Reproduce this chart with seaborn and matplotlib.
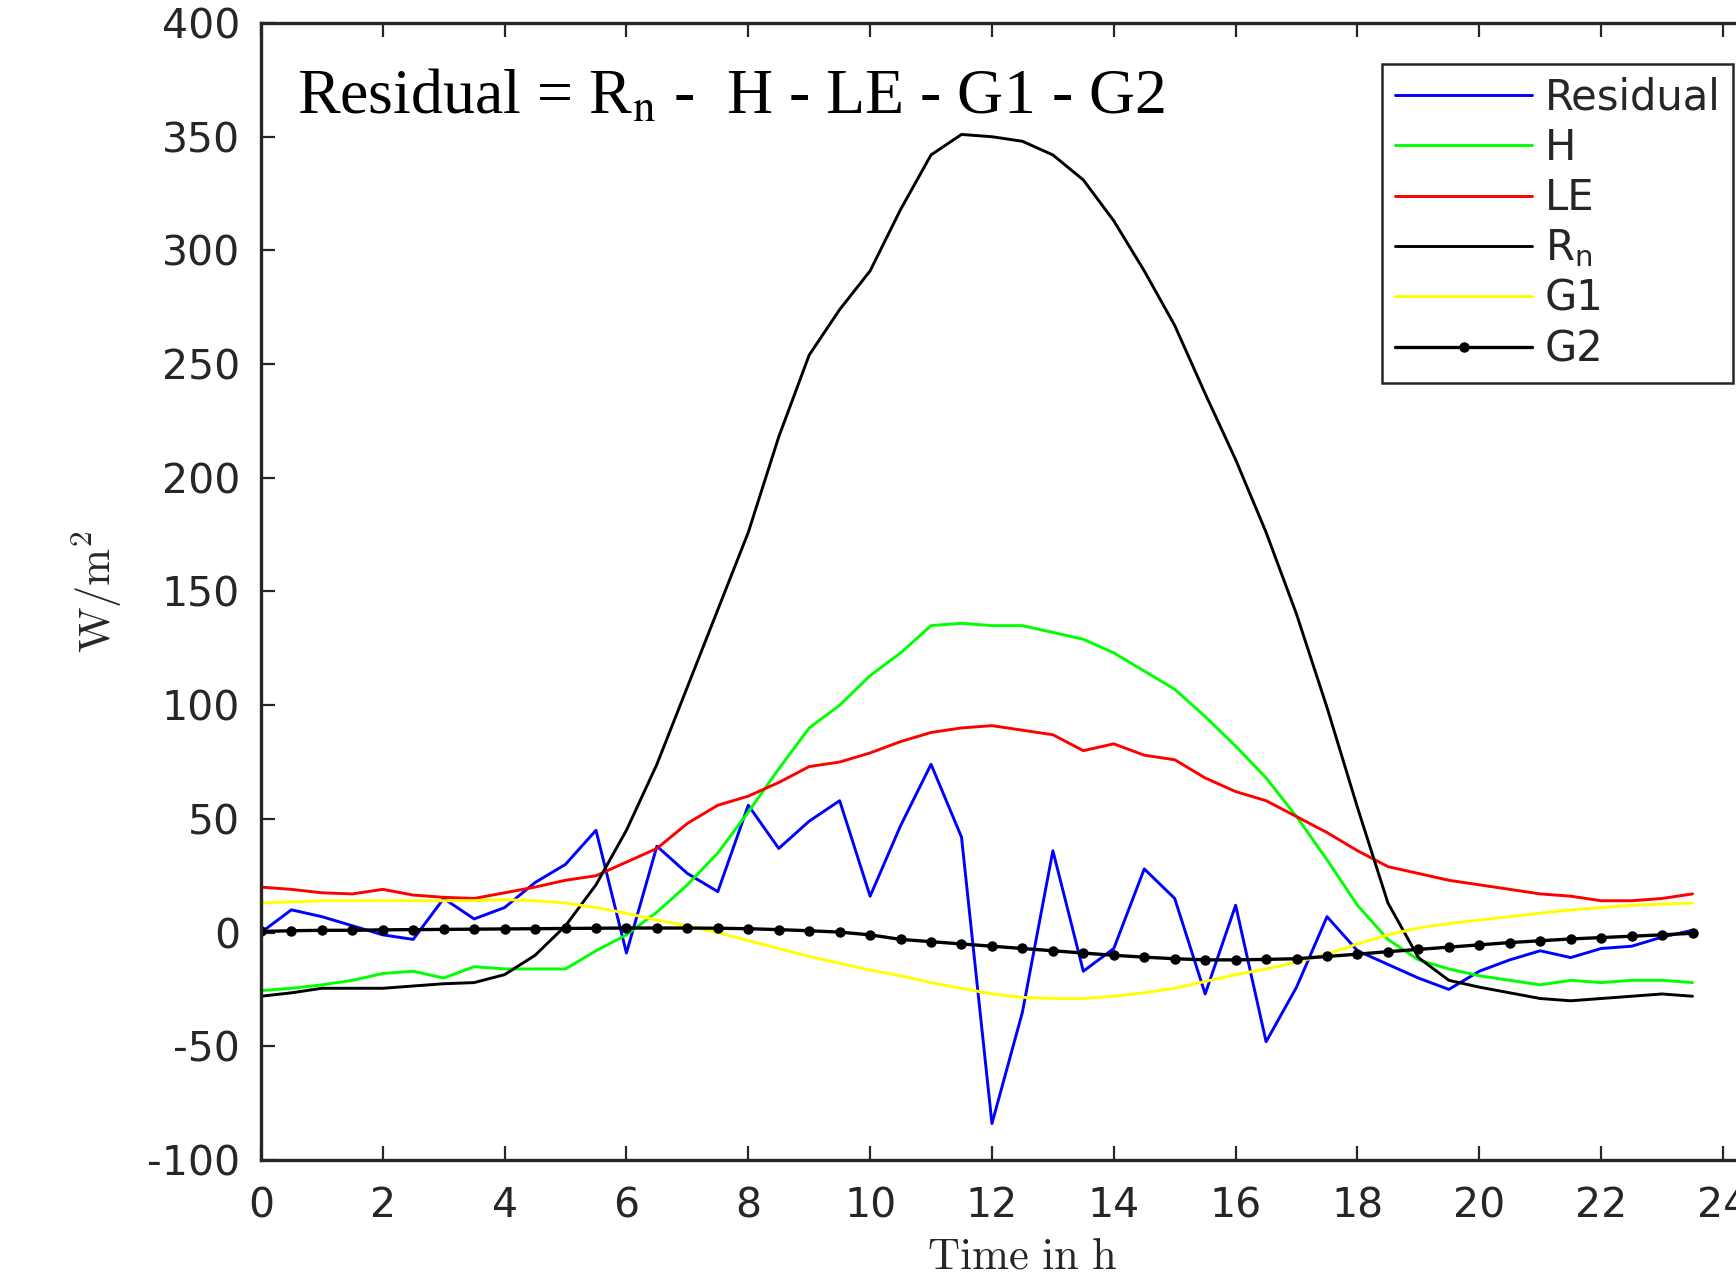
import numpy as np
import pandas as pd
import matplotlib
matplotlib.use("Agg")
import matplotlib.pyplot as plt
import seaborn as sns

# half-hourly energy balance terms (W/m^2)
hours = [0.0, 0.5, 1.0, 1.5, 2.0, 2.5, 3.0, 3.5, 4.0, 4.5, 5.0, 5.5,
         6.0, 6.5, 7.0, 7.5, 8.0, 8.5, 9.0, 9.5, 10.0, 10.5, 11.0, 11.5,
         12.0, 12.5, 13.0, 13.5, 14.0, 14.5, 15.0, 15.5, 16.0, 16.5, 17.0, 17.5,
         18.0, 18.5, 19.0, 19.5, 20.0, 20.5, 21.0, 21.5, 22.0, 22.5, 23.0, 23.5]

residual = [0, 10, 7, 3, -1, -3, 15, 6, 11, 22, 30, 45,
            -9, 38, 26, 18, 56, 37, 49, 58, 16, 47, 74, 42,
            -84, -35, 36, -17, -7, 28, 15, -27, 12, -48, -24, 7,
            -8, -14, -20, -25, -17, -12, -8, -11, -7, -6, -2, 1]

h_flux = [-25.5, -24.5, -23, -21, -18, -17, -20, -15, -16, -16, -16, -8,
          -1, 9, 21, 35, 53, 72, 90, 100, 113, 123, 135, 136,
          135, 135, 132, 129, 123, 115, 107, 95, 82, 68, 51, 32,
          12, -3, -12, -16, -19, -21, -23, -21, -22, -21, -21, -22]

le_flux = [20, 19, 17.5, 17, 19, 16.5, 15.5, 15, 17.5, 20, 23, 25,
           31, 37, 48, 56, 60, 66, 73, 75, 79, 84, 88, 90,
           91, 89, 87, 80, 83, 78, 76, 68, 62, 58, 51, 44,
           36, 29, 26, 23, 21, 19, 17, 16, 14, 14, 15, 17]

rn = [-28, -26.5, -24.5, -24.5, -24.5, -23.5, -22.5, -22, -18.5, -10, 3, 21,
      45, 74, 108, 142, 176, 218, 254, 274, 291, 318, 342, 351,
      350, 348, 342, 331, 313, 291, 267, 237, 208, 176, 140, 99,
      55, 13, -11, -21, -24, -26.5, -29, -30, -29, -28, -27, -28]

g1 = [13, 13.5, 14, 14, 14, 14, 14, 14, 14.5, 14, 13, 11,
      8.5, 5.5, 3, 0, -3.5, -7, -10.5, -13.5, -16.5, -19, -22, -24.5,
      -27, -28.5, -29, -29, -28, -26.5, -24.5, -21.5, -18.5, -16, -13, -9.5,
      -5, -1, 2, 4, 5.5, 7, 8.5, 10, 11, 12, 12.5, 13]

g2 = [0.5, 0.8, 1, 1, 1.2, 1.3, 1.4, 1.5, 1.6, 1.7, 1.8, 1.9,
      2, 2, 2, 1.9, 1.7, 1.3, 0.8, 0.2, -1, -3, -4, -5,
      -6, -7, -8, -9, -10, -10.8, -11.5, -12, -12, -11.8, -11.5, -10.5,
      -9.5, -8.4, -7.4, -6.4, -5.4, -4.4, -3.6, -2.8, -2.2, -1.6, -1, -0.3]

series = [
    ("Residual", residual, "#0000ff"),
    ("H", h_flux, "#00ff00"),
    ("LE", le_flux, "#ff0000"),
    (r"R$_{\mathrm{n}}$", rn, "#000000"),
    ("G1", g1, "#ffff00"),
    ("G2", g2, "#000000"),
]

sns.set_style("ticks")
plt.rcParams["font.family"] = ["DejaVu Sans"]
plt.rcParams["axes.unicode_minus"] = False
plt.rcParams["mathtext.fontset"] = "dejavusans"

fig = plt.figure(figsize=(17.36, 12.73), dpi=100)
ax = fig.add_axes([0.1503, 0.0888, 0.8773, 0.8931])

for name, vals, col in series:
    df = pd.DataFrame({"t": hours, "v": vals})
    if name == "G2":
        sns.lineplot(data=df, x="t", y="v", ax=ax, color=col, label=name,
                     linewidth=2.4, marker="o", markersize=7.5, markeredgewidth=0)
    else:
        sns.lineplot(data=df, x="t", y="v", ax=ax, color=col, label=name,
                     linewidth=2.1)

ax.set_xlim(0, 25)
ax.set_ylim(-100, 400)
ax.set_xticks(np.arange(0, 25, 2))
ax.set_yticks(np.arange(-100, 401, 50))
ax.tick_params(direction="in", length=10, width=1.6, labelsize=29.5,
               labelcolor="#262626", color="#262626", top=True, right=True)
ax.tick_params(axis="x", pad=19)
ax.tick_params(axis="y", pad=15)
for s in ax.spines.values():
    s.set_linewidth(2.4)
    s.set_color("#262626")

ax.set_xlabel(r"$\mathrm{Time\ in\ h}$", fontsize=32, math_fontfamily="cm")
ax.set_ylabel(r"$\mathrm{W/m^2}$", fontsize=32, math_fontfamily="cm")
ax.xaxis.set_label_coords(0.5, -0.066)
ax.yaxis.set_label_coords(-0.09, 0.5)

ax.text(0.6, 360, r"Residual = R$_{\mathrm{n}}$ -  H - LE - G1 - G2",
        fontsize=46, family="Liberation Serif", math_fontfamily="stix",
        color="black", va="baseline", ha="left")

leg = ax.legend(loc="upper right", bbox_to_anchor=(1733 / 1736, 1 - 64 / 1273),
                bbox_transform=fig.transFigure, fontsize=30, handlelength=3.3,
                handletextpad=0.3, labelspacing=0.2, borderpad=0.3,
                borderaxespad=0, fancybox=False, framealpha=1,
                edgecolor="#262626")
leg.get_frame().set_linewidth(1.8)
for t in leg.get_texts():
    t.set_color("#262626")

fig.savefig("out.png", dpi=100)
